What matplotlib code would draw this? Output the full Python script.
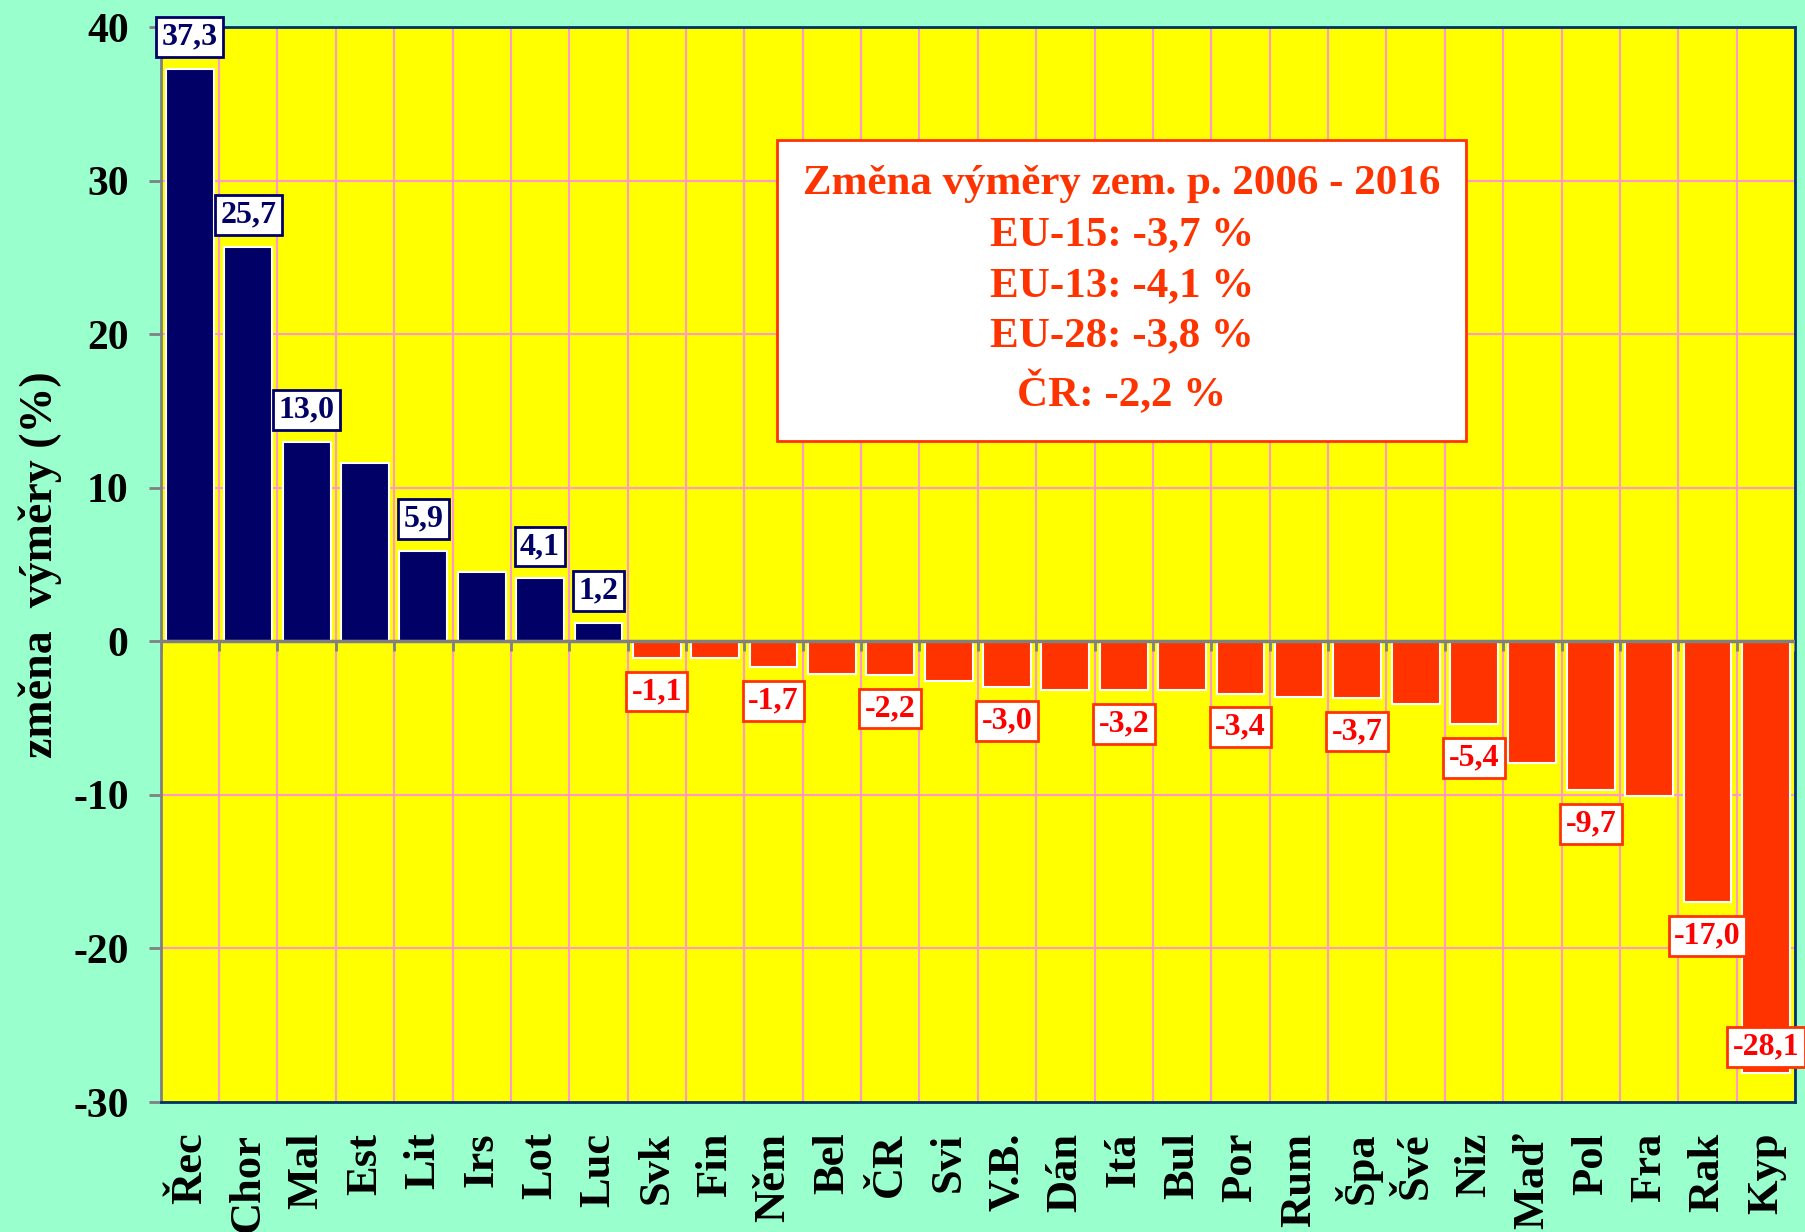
import matplotlib.pyplot as plt
import numpy as np

# zkratky zemi a zmena vymery zem. pudy 2006-2016 (%)
zeme = ['Řec', 'Chor', 'Mal', 'Est', 'Lit', 'Irs', 'Lot', 'Luc', 'Svk', 'Fin',
        'Něm', 'Bel', 'ČR', 'Svi', 'V.B.', 'Dán', 'Itá', 'Bul', 'Por', 'Rum',
        'Špa', 'Švé', 'Niz', 'Maď', 'Pol', 'Fra', 'Rak', 'Kyp']
zmena = [37.3, 25.7, 13.0, 11.6, 5.9, 4.5, 4.1, 1.2, -1.1, -1.1,
         -1.7, -2.1, -2.2, -2.6, -3.0, -3.2, -3.2, -3.2, -3.4, -3.6,
         -3.7, -4.1, -5.4, -7.9, -9.7, -10.1, -17.0, -28.1]
# ktere sloupce maji popisek s hodnotou
popisek = [1, 1, 1, 0, 1, 0, 1, 1, 1, 0,
           1, 0, 1, 0, 1, 0, 1, 0, 1, 0,
           1, 0, 1, 0, 1, 0, 1, 1]
info_radky = ['Změna výměry zem. p. 2006 - 2016', 'EU-15: -3,7 %', 'EU-13: -4,1 %',
              'EU-28: -3,8 %', 'ČR: -2,2 %']

modra = '#000066'
cervena = '#FF3300'
pozadi = '#99FFCC'
zluta = '#FFFF00'
ruzova = '#FF99CC'

plt.rcParams['font.family'] = ['Liberation Serif', 'DejaVu Serif']
plt.rcParams['font.weight'] = 'bold'
plt.rcParams['axes.unicode_minus'] = False

fig = plt.figure(figsize=(18.05, 12.32), dpi=100, facecolor=pozadi)
ax = fig.add_axes([0.089, 0.1055, 0.9055, 0.8725])
ax.set_facecolor(zluta)

x = np.arange(len(zeme))
barvy = [modra if v > 0 else cervena for v in zmena]
ax.bar(x, zmena, width=0.82, color=barvy, edgecolor='white', linewidth=1.5, zorder=3)

ax.set_xlim(-0.5, len(zeme) - 0.5)
ax.set_ylim(-30, 40)
ax.set_yticks(range(-30, 41, 10))

# mrizka - svisle na hranicich kategorii, vodorovne na tickach
for b in np.arange(len(zeme) + 1) - 0.5:
    ax.axvline(b, color=ruzova, lw=1.5, zorder=1)
for t in range(-20, 40, 10):
    ax.axhline(t, color=ruzova, lw=1.5, zorder=1)
ax.axhline(0, color='#808080', lw=2.5, zorder=4)
ax.vlines(np.arange(len(zeme) + 1) - 0.5, -0.6, 0, color='#808080', lw=2, zorder=4)

ax.set_xticks(x)
ax.set_xticklabels(zeme, rotation=90, va='top', fontsize=32, fontweight='bold')
ax.tick_params(axis='x', length=0, pad=22)
ax.tick_params(axis='y', length=9, width=2, color='#808080', labelsize=30, pad=14)
for lab in ax.get_yticklabels():
    lab.set_fontweight('bold')
ax.set_ylabel('změna  výměry (%)', fontsize=33, fontweight='bold', labelpad=8)

for s in ['top', 'bottom', 'right']:
    ax.spines[s].set_color('#003366')
    ax.spines[s].set_linewidth(2)
ax.spines['left'].set_color('#808080')
ax.spines['left'].set_linewidth(2)

# popisky hodnot
for i, v in enumerate(zmena):
    if not popisek[i]:
        continue
    txt = f'{v:.1f}'.replace('.', ',')
    if v > 0:
        ax.annotate(txt, (i, v), xytext=(0, 23), textcoords='offset points',
                    ha='center', va='center', fontsize=23, color=modra, fontweight='bold',
                    bbox=dict(boxstyle='square,pad=0.17', fc='white', ec=modra, lw=2),
                    zorder=6, annotation_clip=False)
    else:
        yv = max(v, -26.4)
        off = -24 if v > -26.4 else 0
        ax.annotate(txt, (i, yv), xytext=(0, off), textcoords='offset points',
                    ha='center', va='center', fontsize=23, color='#FF0000', fontweight='bold',
                    bbox=dict(boxstyle='square,pad=0.17', fc='white', ec=cervena, lw=2),
                    zorder=6, annotation_clip=False)

# informacni ramecek
ax.text(0.588, 0.755, '\n'.join(info_radky), transform=ax.transAxes, ha='center', va='center',
        fontsize=31, color=cervena, fontweight='bold', linespacing=1.44, zorder=7,
        bbox=dict(boxstyle='square,pad=0.6', fc='white', ec=cervena, lw=2))

fig.savefig('out.png', dpi=100, facecolor=pozadi)
